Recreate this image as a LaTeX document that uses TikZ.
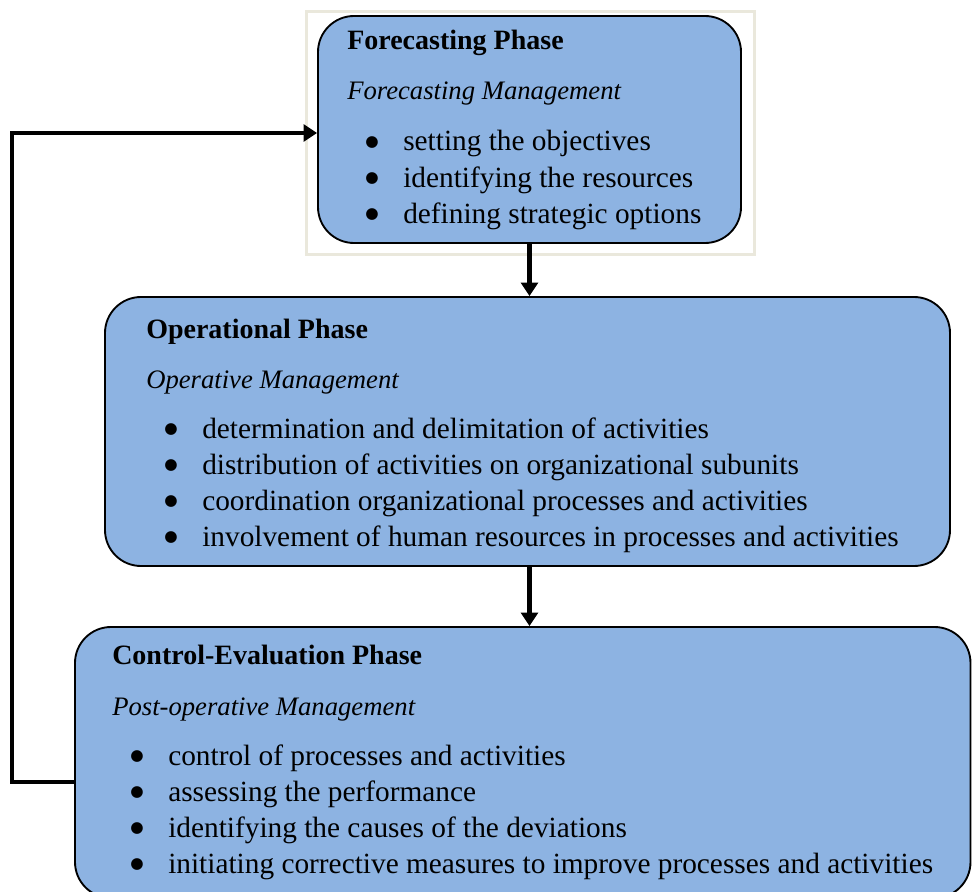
\documentclass[tikz,border=0pt]{standalone}
\usepackage{fontspec}
\setmainfont{Liberation Serif}
\newfontfamily\bulletfont{DejaVu Sans}
\usetikzlibrary{arrows.meta,fit}
\definecolor{boxblue}{HTML}{8DB3E2}
\definecolor{framebeige}{HTML}{EAE8DC}
% list marker: a round dot centred 24pt left of the item text
\newcommand\listbul{\makebox[29pt][l]{\hspace{0.6pt}\raisebox{3.3pt}{\bulletfont\fontsize{11.5}{12}\selectfont ●}}}

\begin{document}
\begin{tikzpicture}[x=0.75pt,y=-0.75pt,
  phase/.style={draw=black, line width=1.4pt, fill=boxblue, rounded corners=27pt, inner sep=0pt},
  holder/.style={draw=framebeige, line width=2.6pt, inner sep=0pt},
  ttl/.style={anchor=base west, inner sep=0pt, font=\fontsize{21}{24}\selectfont\bfseries},
  sub/.style={anchor=base west, inner sep=0pt, font=\fontsize{20}{24}\selectfont\itshape},
  itm/.style={anchor=base west, inner sep=0pt, xshift=-29pt, font=\fontsize{22}{26}\selectfont},
  flow/.style={line width=3.5pt, -{Triangle[length=10pt,width=12.5pt]}},
]
\useasboundingbox (0,0) rectangle (972,892);
\clip (0,0) rectangle (972,892);

% forecasting phase with its light frame
\node[holder, fit={(306.5,11.5) (754.5,254.5)}] (frame) {};
\node[phase, fit={(318,16) (741,243)}] (fc) {};
\node[ttl] (fcT) at (347,50) {Forecasting Phase};
\node[sub] (fcS) at (347,99) {Forecasting Management};
\node[itm] (fc1) at (403,151) {\listbul setting the objectives};
\node[itm] (fc2) at (403,187) {\listbul identifying the resources};
\node[itm] (fc3) at (403,223) {\listbul defining strategic options};

% operational phase
\node[phase, fit={(105,297) (950,566)}] (op) {};
\node[ttl] (opT) at (146,338) {Operational Phase};
\node[sub] (opS) at (146,388) {Operative Management};
\node[itm] (op1) at (202,438) {\listbul determination and delimitation of activities};
\node[itm] (op2) at (202,474) {\listbul distribution of activities on organizational subunits};
\node[itm] (op3) at (202,510) {\listbul coordination organizational processes and activities};
\node[itm] (op4) at (202,546) {\listbul involvement of human resources in processes and activities};

% control-evaluation phase
\node[phase, fit={(75,627) (970.5,898)}] (ce) {};
\node[ttl] (ceT) at (112,664) {Control-Evaluation Phase};
\node[sub] (ceS) at (112,715) {Post-operative Management};
\node[itm] (ce1) at (168,765) {\listbul control of processes and activities};
\node[itm] (ce2) at (168,801) {\listbul assessing the performance};
\node[itm] (ce3) at (168,837) {\listbul identifying the causes of the deviations};
\node[itm] (ce4) at (168,873) {\listbul initiating corrective measures to improve processes and activities};

% connectors
\draw[flow] (fc.south) -- (fc.south |- op.north);
\draw[flow] (fc.south |- op.south) -- (fc.south |- ce.north);
\coordinate (loopbot) at (12,782);
\coordinate (looptop) at (12,133);
\draw[flow] (ce.west |- loopbot) -- (loopbot) -- (looptop) -- (fc.west |- looptop);
\end{tikzpicture}
\end{document}
